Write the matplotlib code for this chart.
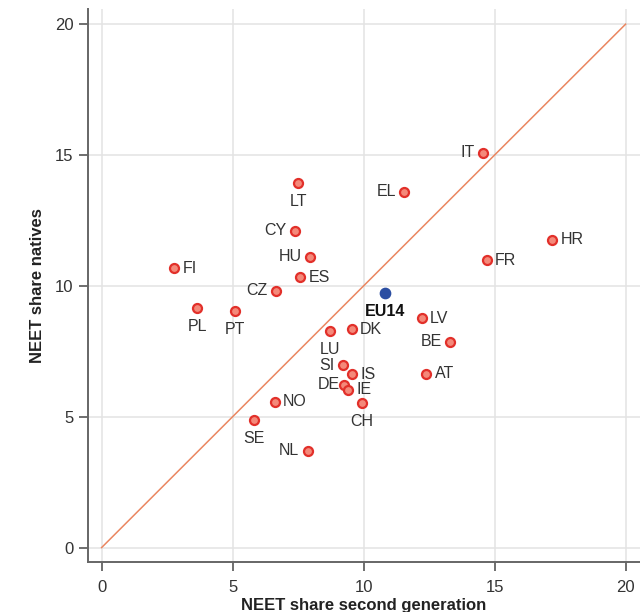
import matplotlib
matplotlib.use("Agg")
from matplotlib import pyplot as plt

plt.rcParams['font.family'] = ['Liberation Sans', 'DejaVu Sans']

# NEET shares (%) : second generation vs natives
countries = ['IT', 'EL', 'LT', 'CY', 'HU', 'ES', 'FI', 'CZ', 'PL', 'PT',
             'LU', 'DK', 'LV', 'BE', 'AT', 'SI', 'IS', 'DE', 'IE', 'CH',
             'NO', 'SE', 'NL', 'FR', 'HR']
second_gen = [14.56, 11.55, 7.50, 7.39, 7.95, 7.58, 2.77, 6.65, 3.65, 5.10,
              8.72, 9.55, 12.21, 13.30, 12.39, 9.20, 9.56, 9.27, 9.40, 9.93,
              6.60, 5.80, 7.86, 14.70, 17.20]
natives = [15.08, 13.60, 13.94, 12.10, 11.12, 10.32, 10.68, 9.81, 9.15, 9.05,
           8.28, 8.35, 8.76, 7.86, 6.64, 6.96, 6.63, 6.22, 6.03, 5.53,
           5.57, 4.88, 3.69, 10.98, 11.77]
# where each country code sits relative to its marker
label_side = ['left', 'left', 'below', 'left', 'left', 'right', 'right', 'left', 'below', 'below',
              'below', 'right', 'right', 'left', 'right', 'left', 'right', 'left', 'right', 'below',
              'right', 'below', 'left', 'right', 'right']

eu14_x = 10.82
eu14_y = 9.73

ticks = [0, 5, 10, 15, 20]

fig = plt.figure(figsize=(6.4, 6.12), dpi=100)
ax = fig.add_axes([0.1375, 0.0822, 0.8625, 0.9031])

ax.plot([0, 20], [0, 20], color='#ea8660', lw=1.1, zorder=2)

ax.scatter(second_gen, natives, s=42, facecolor='#f4897a', edgecolor='#e2302a',
           linewidth=1.6, zorder=3)
ax.scatter([eu14_x], [eu14_y], s=55, color='#2b4ea2', zorder=3)

offsets = {'left': (-6, 0), 'right': (6, 0), 'below': (0, -13.5)}
aligns = {'left': 'right', 'right': 'left', 'below': 'center'}
for name, x, y, side in zip(countries, second_gen, natives, label_side):
    dx, dy = offsets[side]
    if name == 'DE':
        dx = -3
    ax.annotate(name, (x, y), xytext=(dx, dy), textcoords='offset points',
                ha=aligns[side], va='center', fontsize=11.5, color='#333333')
ax.annotate('EU14', (eu14_x, eu14_y), xytext=(0, -13.5), textcoords='offset points',
            ha='center', va='center', fontsize=11.5, fontweight='bold', color='#111111')

ax.set_xlim(-0.52, 20.55)
ax.set_ylim(-0.54, 20.58)
ax.set_xticks(ticks)
ax.set_yticks(ticks)
ax.grid(True, color='#e3e3e3', lw=1.1)
ax.set_axisbelow(True)

for side in ['top', 'right']:
    ax.spines[side].set_visible(False)
for side in ['left', 'bottom']:
    ax.spines[side].set_color('#666666')
    ax.spines[side].set_linewidth(1.4)

ax.tick_params(axis='both', length=6.5, width=1.2, color='#555555',
               labelsize=12, labelcolor='#333333')
ax.tick_params(axis='x', pad=7)
ax.tick_params(axis='y', pad=4)

ax.set_xlabel('NEET share second generation', fontsize=12, fontweight='bold',
              color='#222222', labelpad=2)
ax.set_ylabel('NEET share natives', fontsize=12, fontweight='bold',
              color='#222222', labelpad=7)

fig.savefig('out.png', dpi=100)
